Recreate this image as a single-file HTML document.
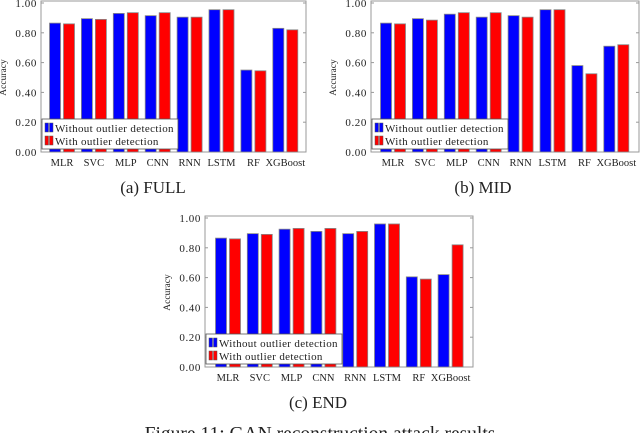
<!DOCTYPE html>
<html><head><meta charset="utf-8"><style>
html,body{margin:0;padding:0;background:#fff;width:640px;height:433px;overflow:hidden}
svg{display:block}
text{font-family:"Liberation Serif",serif;fill:#222}
</style></head><body>
<svg id="fig" width="640" height="433"></svg>
<script>
const categories=["MLR","SVC","MLP","CNN","RNN","LSTM","RF","XGBoost"];
const ticks=[0,0.2,0.4,0.6,0.8,1.0];
const tickLabels=["0.00","0.20","0.40","0.60","0.80","1.00"];
const fullWithout=[0.865,0.895,0.93,0.915,0.905,0.955,0.55,0.83];
const fullWith=[0.86,0.89,0.935,0.935,0.905,0.955,0.545,0.82];
const midWithout=[0.865,0.895,0.925,0.905,0.915,0.955,0.58,0.71];
const midWith=[0.86,0.885,0.935,0.935,0.905,0.955,0.525,0.72];
const endWithout=[0.865,0.895,0.925,0.91,0.895,0.96,0.605,0.62];
const endWith=[0.86,0.89,0.93,0.93,0.91,0.96,0.59,0.82];

const NS="http://www.w3.org/2000/svg";
const svg=document.getElementById('fig');
function mk(tag,attrs,parent,txt){const e=document.createElementNS(NS,tag);for(const k in attrs)e.setAttribute(k,attrs[k]);if(txt!==undefined)e.textContent=txt;(parent||svg).appendChild(e);return e;}

function panel(id,caption,L,R,T,B,c0,step,s1,s2,capX,capY){
  const g=mk('g',{});
  
  
  const y=v=>B-(B-T)*v;
  const x=i=>c0+step*i;
  const fr=mk('rect',{x:L,y:T-2,width:R-L,height:B-T+2,fill:'none',stroke:'#999','stroke-width':1},g);
  
  
  ticks.forEach((t,i)=>{
    const tl=mk('text',{x:L-4,y:y(t)+4,'text-anchor':'end','font-size':11,'letter-spacing':0.6},g,tickLabels[i]);
    
    
    mk('line',{x1:L,x2:L+3,y1:y(t),y2:y(t),stroke:'#999'},g);
    mk('line',{x1:R-3,x2:R,y1:y(t),y2:y(t),stroke:'#999'},g);
  });
  const yt=mk('text',{transform:`translate(${L-35},${(T+B)/2}) rotate(-90)`,'text-anchor':'middle','font-size':9.5},g,'Accuracy');
  
  
  categories.forEach((c,i)=>{
    const cx=x(i);
    const b1=mk('rect',{x:cx-12.5,y:y(s1[i]),width:11,height:B-y(s1[i]),fill:'#0000ff',stroke:'#888','stroke-width':0.8},g);
    
    
    const b2=mk('rect',{x:cx+1.5,y:y(s2[i]),width:11,height:B-y(s2[i]),fill:'#ff0000',stroke:'#888','stroke-width':0.8},g);
    
    
    const xl=mk('text',{x:cx,y:B+14,'text-anchor':'middle','font-size':10.5},g,c);
    
    
  });
  const lg=mk('g',{},g);
  
  
  mk('rect',{x:L+1,y:B-33,width:136,height:30,fill:'#fff',stroke:'#555','stroke-width':0.8},lg);
  [['#0000ff','Without outlier detection'],['#ff0000','With outlier detection']].forEach((e,k)=>{
    const yy=B-29+k*13;
    mk('rect',{x:L+4,y:yy,width:3.5,height:9,fill:e[0],stroke:'#555','stroke-width':0.5},lg);
    mk('rect',{x:L+8.5,y:yy,width:3.5,height:9,fill:e[0],stroke:'#555','stroke-width':0.5},lg);
    const t=mk('text',{x:L+14,y:yy+9,'font-size':11,'letter-spacing':0.35},lg,e[1]);
    
    
  });
  const cp=mk('text',{x:capX,y:capY,'text-anchor':'middle','font-size':17},g,caption);
  
  
}
panel('full','(a) FULL',41,306,3,152,62,31.9,fullWithout,fullWith,153,193);
panel('mid','(b) MID',371,639,3,152,393,31.9,midWithout,midWith,483,193);
panel('end','(c) END',205,473,218,367,228,31.8,endWithout,endWith,318,408);
const ft=mk('text',{x:320,y:440,'text-anchor':'middle','font-size':19.5},svg,'Figure 11: GAN reconstruction attack results');


</script>
</body></html>
